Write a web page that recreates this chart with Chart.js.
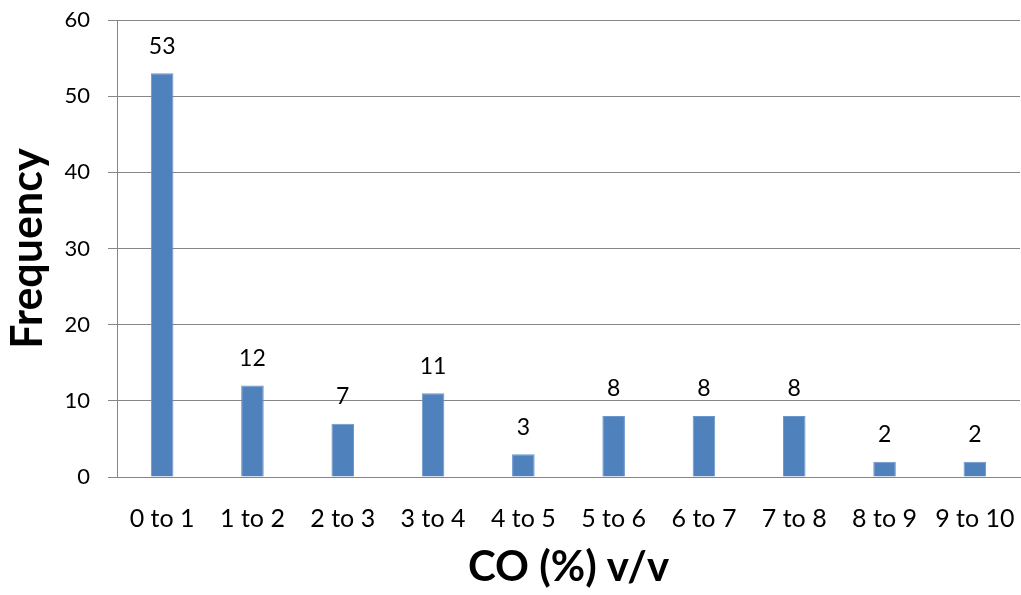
<!DOCTYPE html>
<html>
<head>
<meta charset="utf-8">
<script src="https://cdn.jsdelivr.net/npm/chart.js@4"></script>
<style>
  html, body { margin: 0; padding: 0; background: #fff; }
  #wrap { width: 1021px; height: 595px; }
</style>
</head>
<body>
<div id="wrap"><canvas id="chart"></canvas></div>
<script>
const categories = ["0 to 1", "1 to 2", "2 to 3", "3 to 4", "4 to 5", "5 to 6", "6 to 7", "7 to 8", "8 to 9", "9 to 10"];
const frequency = [53, 12, 7, 11, 3, 8, 8, 8, 2, 2];
const yTicks = [0, 10, 20, 30, 40, 50, 60];

const FONT = "Lato, 'Open Sans', sans-serif";

// labels above each bar
const barLabels = {
  id: "barLabels",
  afterDatasetsDraw(chart) {
    const ctx = chart.ctx;
    const meta = chart.getDatasetMeta(0);
    ctx.save();
    ctx.font = "23px " + FONT;
    ctx.fillStyle = "#000";
    ctx.textAlign = "center";
    ctx.textBaseline = "middle";
    meta.data.forEach((bar, i) => {
      ctx.fillText(String(frequency[i]), bar.x, bar.y - 27);
    });
    ctx.restore();
  },
};

const ctx = document.getElementById("chart").getContext("2d");
new Chart(ctx, {
  type: "bar",
  data: {
    labels: categories,
    datasets: [
      {
        data: frequency,
        backgroundColor: "#4F81BD",
        borderColor: "#6A95CC",
        borderWidth: 1,
        barPercentage: 0.25,
        categoryPercentage: 1,
      },
    ],
  },
  options: {
    responsive: true,
    maintainAspectRatio: false,
    animation: false,
    layout: { padding: { top: 20, left: 0, right: 1, bottom: 0 } },
    plugins: {
      legend: { display: false },
      tooltip: { enabled: false },
    },
    scales: {
      x: {
        grid: { display: false },
        border: { display: true, color: "#868686", width: 1 },
        ticks: {
          color: "#000",
          font: { family: FONT, size: 25 },
          padding: 19,
          maxRotation: 0,
          autoSkip: false,
        },
        title: {
          display: true,
          text: "CO (%) v/v",
          color: "#000",
          font: { family: FONT, size: 42, weight: "bold" },
          padding: { top: 0, bottom: 2 },
        },
        afterFit(scale) {
          scale.height = 118;
          scale.paddingLeft = 0;
          scale.paddingRight = 0;
        },
      },
      y: {
        min: 0,
        max: 60,
        afterBuildTicks(scale) {
          scale.ticks = yTicks.map((v) => ({ value: v }));
        },
        grid: { color: "#868686", tickLength: 9, lineWidth: 1 },
        border: { display: true, color: "#868686", width: 1 },
        ticks: {
          color: "#000",
          font: { family: FONT, size: 22 },
          padding: 18,
        },
        title: {
          display: true,
          text: "Frequency",
          color: "#000",
          font: { family: FONT, size: 43, weight: "bold" },
          padding: { top: 2, bottom: 0 },
        },
        afterFit(scale) {
          scale.width = 117;
          scale.paddingTop = 0;
          scale.paddingBottom = 0;
        },
      },
    },
  },
  plugins: [barLabels],
});
</script>
</body>
</html>
